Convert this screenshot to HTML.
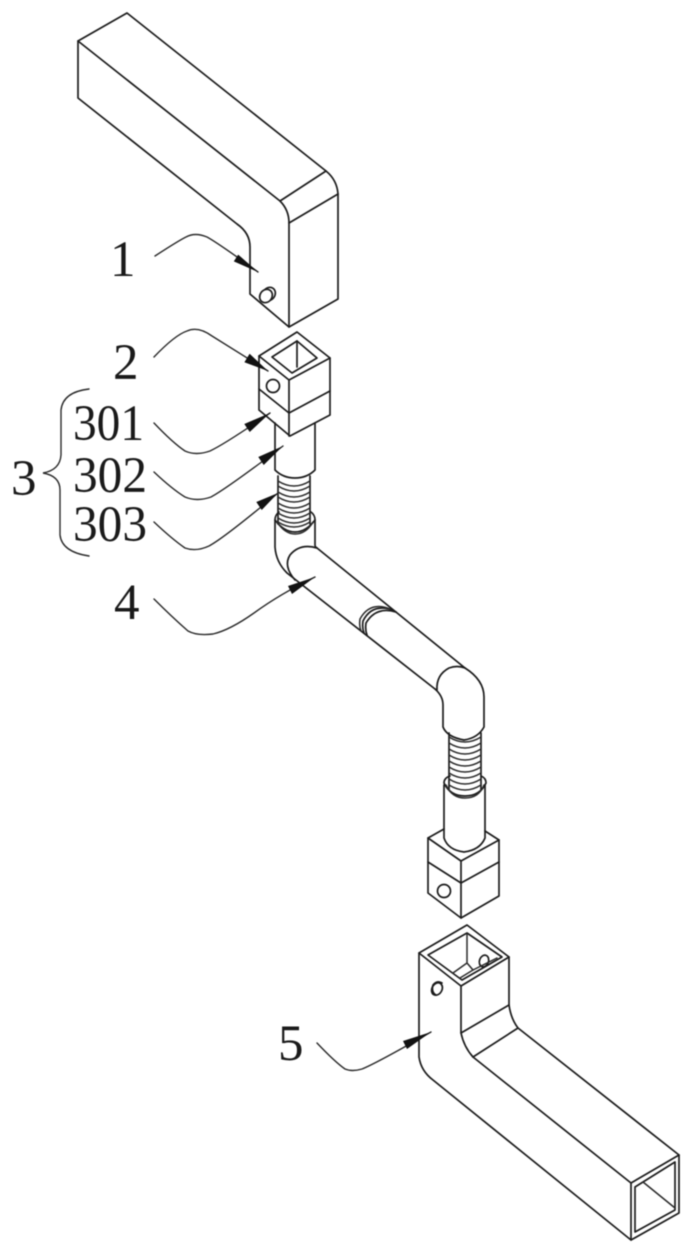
<!DOCTYPE html>
<html lang="en">
<head>
<meta charset="utf-8">
<title>Diagram</title>
<style>
html,body{margin:0;padding:0;background:#fff;width:694px;height:1255px;overflow:hidden}
svg{display:block;filter:blur(.4px)}
.l{fill:none;stroke:#1c1c1c;stroke-width:1.7;stroke-linejoin:round;stroke-linecap:round}
.t{fill:none;stroke:#2a2a2a;stroke-width:1.5;stroke-linecap:round}
.c{fill:none;stroke:#2a2a2a;stroke-width:1.4;stroke-linecap:round}
.h{fill:#111;stroke:none}
text{font-family:"Liberation Serif",serif;font-size:51px;fill:#1a1a1a}
</style>
</head>
<body>
<svg width="694" height="1255" viewBox="0 0 694 1255" xmlns="http://www.w3.org/2000/svg">
<!-- Part 1 -->
<path class="l" d="M127,13 L78,41 V98 L237,224 Q250,233 250,247 V294 L289,327 L338,299 V194 Q337,180 326,171 L127,13Z"/>
<path class="l" d="M78,41 L280,201 Q289,210 289,223 V327"/>
<path class="l" d="M280,201 L326,171"/>
<path class="l" d="M289,223 L338,194"/>
<ellipse class="l" cx="269" cy="294" rx="6" ry="7" transform="rotate(35 269 294)"/>
<ellipse class="l" cx="266" cy="296" rx="6" ry="7" transform="rotate(35 266 296)" style="fill:#fff"/>

<!-- Part 2 block -->
<path class="l" d="M297,332 L259,356 V410 L290,436 L330,415 V358 Z"/>
<path class="l" d="M259,356 L289,380 L330,358"/>
<path class="l" d="M289,380 V436"/>
<path class="l" d="M259,389 L289,413 L330,391"/>
<path class="l" d="M297,341 L272,357 L292,373 L317,358 Z"/>
<path class="l" d="M297,341 V367"/>
<circle class="l" cx="273" cy="386" r="6.5"/>

<!-- Tube upper -->
<path class="l" d="M275,423 V470 Q283,478 295,478 Q307,478 315,470 V423"/>
<!-- Bellows upper -->
<path class="l" d="M278,476 V524"/>
<path class="l" d="M310,476 V524"/>
<path class="t" d="M278,481 Q294,491 310,481 M278,486 Q294,496 310,486 M278,492 Q294,502 310,492 M278,497 Q294,507 310,497 M278,503 Q294,513 310,503 M278,508 Q294,518 310,508 M278,513 Q294,523 310,513 M278,518 Q294,528 310,518 M278,522 Q294,532 310,522"/>
<path class="l" d="M279,512 Q275,515 275,520 Q284,532 295,532 Q306,532 315,520 Q315,515 311,512"/>
<path class="t" d="M277,522 Q285,534 295,534 Q306,534 313,522"/>

<!-- Elbow + pipe -->
<path class="l" d="M275,520 V547 Q276,562 287,573 L435,689"/>
<path class="l" d="M315,520 V545 Q315,547 317,548 L465,668"/>
<path class="l" d="M317,548 Q300,543 290,555 Q283,566 295,580"/>
<path class="l" d="M393,610 Q372,603 363,621 Q362,628 364,633"/>
<path class="l" d="M396,612 Q376,606 366,623 Q365,630 367,635"/>
<path class="t" d="M390,609 Q370,601 360,619 Q359,626 361,631"/>

<!-- Elbow 2 -->
<path class="l" d="M435,689 Q443,696 443,705 V727 Q447,737 464,740 Q478,738 484,727 V697 Q484,680 465,668"/>
<path class="l" d="M437,690 Q436,675 449,668 Q457,665 465,668"/>

<!-- Bellows lower -->
<path class="l" d="M449,733 V790"/>
<path class="l" d="M481,733 V790"/>
<path class="t" d="M449,737 Q465,747 481,737 M449,743 Q465,753 481,743 M449,749 Q465,759 481,749 M449,755 Q465,765 481,755 M449,761 Q465,771 481,761 M449,767 Q465,777 481,767 M449,773 Q465,783 481,773 M449,779 Q465,789 481,779 M449,785 Q465,795 481,785"/>
<path class="l" d="M450,776 Q444,778 444,783 Q450,796 465,796 Q480,796 486,783 Q486,778 481,776"/>
<path class="t" d="M446,785 Q452,798 465,798 Q479,798 484,785"/>

<!-- Tube lower -->
<path class="l" d="M444,785 V838 Q448,850 464,852 Q480,850 485,838 V785"/>

<!-- Lower block -->
<path class="l" d="M444,829 L428,838 V893 L461,918 L499,896 V840 L485,831"/>
<path class="l" d="M428,838 L461,861 L499,840"/>
<path class="l" d="M461,861 V918"/>
<path class="l" d="M428,862 L461,883 L499,862"/>
<circle class="l" cx="444" cy="891" r="6.5"/>

<!-- Part 5 -->
<path class="l" d="M467,925 L419,953 V1057 Q421,1071 433,1080 L631,1240 L679,1213 V1155 L518,1028 Q511,1019 509,1005 V957 Z"/>
<path class="l" d="M419,953 L461,986 L509,957"/>
<path class="l" d="M461,986 V1033 Q464,1047 473,1057 L631,1183 V1240"/>
<path class="l" d="M631,1183 L679,1155"/>
<path class="l" d="M461,1033 L509,1005"/>
<path class="l" d="M473,1057 L518,1028"/>
<path class="l" d="M467,933 L428,955 L462,980 L502,957 Z"/>
<path class="t" d="M467,933 V963 L453,973 M467,963 L473,970 L460,978"/>
<ellipse class="l" cx="484" cy="961" rx="4.5" ry="6" transform="rotate(20 484 961)"/>
<path class="t" d="M473,970 L497,958"/>
<path class="l" d="M442,983 Q437,980 433,985 Q431,992 436,995"/>
<ellipse class="l" cx="437" cy="989" rx="5" ry="6.5" transform="rotate(30 437 989)"/>
<path class="l" d="M635,1187 L675,1162 V1210 L635,1232 Z"/>
<path class="t" d="M643,1182 L675,1208"/>

<!-- Leaders -->
<path class="c" d="M155,256 Q178,241 186,237 Q195,232 207,237 Q218,243 258,272"/>
<polygon class="h" points="258,272 233.8,261.4 238.2,254.6"/>

<path class="c" d="M154,357 Q175,335 187,331 Q198,326 212,336 Q228,346 268,371"/>
<polygon class="h" points="268,371 244.4,362.2 249.6,353.8"/>

<path class="c" d="M154,423 Q173,443 185,451 Q196,456 210,451 Q225,444 270,413"/>
<polygon class="h" points="270,413 249.7,432 244.3,424"/>

<path class="c" d="M154,472 Q172,489 185,497 Q197,502 211,497 Q226,489 283,446"/>
<polygon class="h" points="283,446 263.7,465 258.3,457"/>

<path class="c" d="M154,522 Q172,539 185,548 Q196,552 209,546 Q224,538 278,493"/>
<polygon class="h" points="278,493 261.7,510 256.3,502"/>

<path class="c" d="M154,599 Q172,617 188,631 Q197,636 213,634 Q230,630 254,613 Q280,594 315,577"/>
<polygon class="h" points="315,577 292,594 288,586"/>

<path class="c" d="M317,1043 Q335,1062 345,1069 Q352,1072 362,1069 Q375,1064 431,1032"/>
<polygon class="h" points="431,1032 407,1049 403,1041"/>

<!-- Brace -->
<path class="c" d="M89,389 Q63,392 61,410 V455 Q60,470 43,473 Q60,476 60,490 V535 Q62,552 89,556"/>

<!-- Labels -->
<text x="110" y="276">1</text>
<text x="113" y="379">2</text>
<text x="11" y="495">3</text>
<text x="73" y="440" textLength="71" lengthAdjust="spacingAndGlyphs">301</text>
<text x="73" y="492" textLength="74" lengthAdjust="spacingAndGlyphs">302</text>
<text x="73" y="541" textLength="74" lengthAdjust="spacingAndGlyphs">303</text>
<text x="114" y="619">4</text>
<text x="278" y="1060">5</text>
</svg>
</body>
</html>
